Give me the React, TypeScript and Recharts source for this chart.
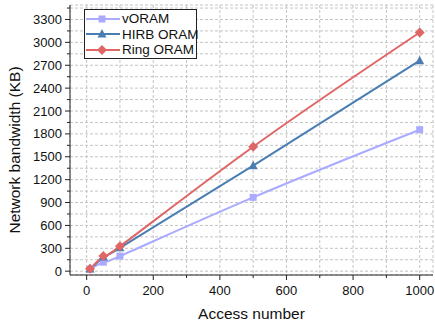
import React from 'react';
import { LineChart, Line, XAxis, YAxis, CartesianGrid } from 'recharts';

const accessNumbers = [10, 50, 100, 500, 1000];
const vOramKB = [28, 118, 198, 968, 1855];
const hirbOramKB = [30, 185, 306, 1383, 2760];
const ringOramKB = [32, 200, 326, 1632, 3130];

const xTicks = [0, 100, 200, 300, 400, 500, 600, 700, 800, 900, 1000];
const yTicks = [0, 150, 300, 450, 600, 750, 900, 1050, 1200, 1350, 1500, 1650, 1800, 1950, 2100, 2250, 2400, 2550, 2700, 2850, 3000, 3150, 3300, 3450];

const seriesNames = ['vORAM', 'HIRB ORAM', 'Ring ORAM'];
const seriesColors = ['#aaaaff', '#4a7eb2', '#e06666'];
const seriesShapes = ['square', 'triangle', 'diamond'];

const data = accessNumbers.map((n, i) => ({
    n,
    vORAM: vOramKB[i],
    hirb: hirbOramKB[i],
    ring: ringOramKB[i],
}));

const FONT = '"Liberation Sans", Arial, sans-serif';

const Marker = ({ cx, cy, shape, color }: any) => {
    if (cx == null || cy == null) return null;
    if (shape === 'square') {
        return <rect x={cx - 3.5} y={cy - 3.5} width={7} height={7} fill={color} />;
    }
    if (shape === 'triangle') {
        return <polygon points={`${cx},${cy - 5} ${cx + 4.5},${cy + 3.5} ${cx - 4.5},${cy + 3.5}`} fill={color} />;
    }
    return <polygon points={`${cx},${cy - 5} ${cx + 5},${cy} ${cx},${cy + 5} ${cx - 5},${cy}`} fill={color} />;
};

const BottomTick = ({ x, y, payload }: any) => {
    const major = payload.value % 200 === 0;
    return (
        <g>
            <line x1={x} y1={y} x2={x} y2={y + (major ? 5 : 3)} stroke="#222" strokeWidth={1} />
            {major && (
                <text x={x} y={y + 20} textAnchor="middle" fontSize={13} fontFamily={FONT} fill="#111">
                    {payload.value}
                </text>
            )}
        </g>
    );
};

const LeftTick = ({ x, y, payload }: any) => {
    const major = payload.value % 300 === 0;
    return (
        <g>
            <line x1={x} y1={y} x2={x - (major ? 5 : 3)} y2={y} stroke="#222" strokeWidth={1} />
            {major && (
                <text x={x - 8} y={y + 4.5} textAnchor="end" fontSize={13} fontFamily={FONT} fill="#111">
                    {payload.value}
                </text>
            )}
        </g>
    );
};

const TopTick = ({ x, y, payload }: any) => {
    const major = payload.value % 200 === 0;
    return <line x1={x} y1={y} x2={x} y2={y + (major ? 5 : 3)} stroke="#222" strokeWidth={1} />;
};

const RightTick = ({ x, y, payload }: any) => {
    const major = payload.value % 300 === 0;
    return <line x1={x} y1={y} x2={x - (major ? 5 : 3)} y2={y} stroke="#222" strokeWidth={1} />;
};

const LegendBox = () => (
    <div style={{ position: 'absolute', left: 84, top: 9, boxSizing: 'border-box', border: '1px solid #222', background: '#fff', width: 113, height: 50, fontFamily: FONT, fontSize: 13.5, color: '#111', whiteSpace: 'nowrap' }}>
        {seriesNames.map((name, i) => (
            <div key={name} style={{ display: 'flex', alignItems: 'center', height: 15.5, marginTop: i === 0 ? 1 : 0 }}>
                <svg width={36} height={12} style={{ flex: 'none' }}>
                    <line x1={1} y1={6} x2={35} y2={6} stroke={seriesColors[i]} strokeWidth={2} />
                    <Marker cx={17} cy={6} shape={seriesShapes[i]} color={seriesColors[i]} />
                </svg>
                <span style={{ marginLeft: 1, lineHeight: '15px' }}>{name}</span>
            </div>
        ))}
    </div>
);

export default function App() {
    const keys = ['vORAM', 'hirb', 'ring'];
    return (
        <div style={{ position: 'absolute', left: 0, top: 0, width: 435, height: 322, background: '#fff' }}>
            <LineChart width={435} height={322} data={data} margin={{ top: 5, right: 2, left: 8, bottom: 0 }}>
                <CartesianGrid stroke="#c4c4c4" strokeDasharray="3 2" xAxisId="bottom" yAxisId="left" />
                <XAxis
                    xAxisId="bottom"
                    dataKey="n"
                    type="number"
                    domain={[-50, 1040]}
                    allowDataOverflow
                    ticks={xTicks}
                    interval={0}
                    height={47}
                    tickSize={0}
                    tickMargin={0}
                    tickLine={false}
                    tick={<BottomTick />}
                    stroke="#222"
                    label={{ value: 'Access number', position: 'insideBottom', offset: 3, fontSize: 15.5, fontFamily: FONT, fill: '#111' }}
                />
                <XAxis
                    xAxisId="top"
                    orientation="top"
                    dataKey="n"
                    type="number"
                    domain={[-50, 1040]}
                    allowDataOverflow
                    ticks={xTicks}
                    interval={0}
                    height={0}
                    tickSize={0}
                    tickMargin={0}
                    tickLine={false}
                    tick={<TopTick />}
                    stroke="#222"
                />
                <YAxis
                    yAxisId="left"
                    type="number"
                    domain={[-50, 3490]}
                    allowDataOverflow
                    ticks={yTicks}
                    interval={0}
                    width={62}
                    tickSize={0}
                    tickMargin={0}
                    tickLine={false}
                    tick={<LeftTick />}
                    stroke="#222"
                    label={{ value: 'Network bandwidth (KB)', angle: -90, position: 'insideLeft', offset: 0, dx: 6, dy: 10, fontSize: 15.5, fontFamily: FONT, fill: '#111', style: { textAnchor: 'middle' } }}
                />
                <YAxis
                    yAxisId="right"
                    orientation="right"
                    type="number"
                    domain={[-50, 3490]}
                    allowDataOverflow
                    ticks={yTicks}
                    interval={0}
                    width={0}
                    tickSize={0}
                    tickMargin={0}
                    tickLine={false}
                    tick={<RightTick />}
                    stroke="#222"
                />
                {keys.map((k, i) => (
                    <Line
                        key={k}
                        xAxisId="bottom"
                        yAxisId="left"
                        type="natural"
                        dataKey={k}
                        name={seriesNames[i]}
                        stroke={seriesColors[i]}
                        strokeWidth={2}
                        dot={(p: any) => <Marker key={`${k}-${p.index}`} cx={p.cx} cy={p.cy} shape={seriesShapes[i]} color={seriesColors[i]} />}
                        activeDot={false}
                        isAnimationActive={false}
                    />
                ))}
            </LineChart>
            <LegendBox />
        </div>
    );
}
